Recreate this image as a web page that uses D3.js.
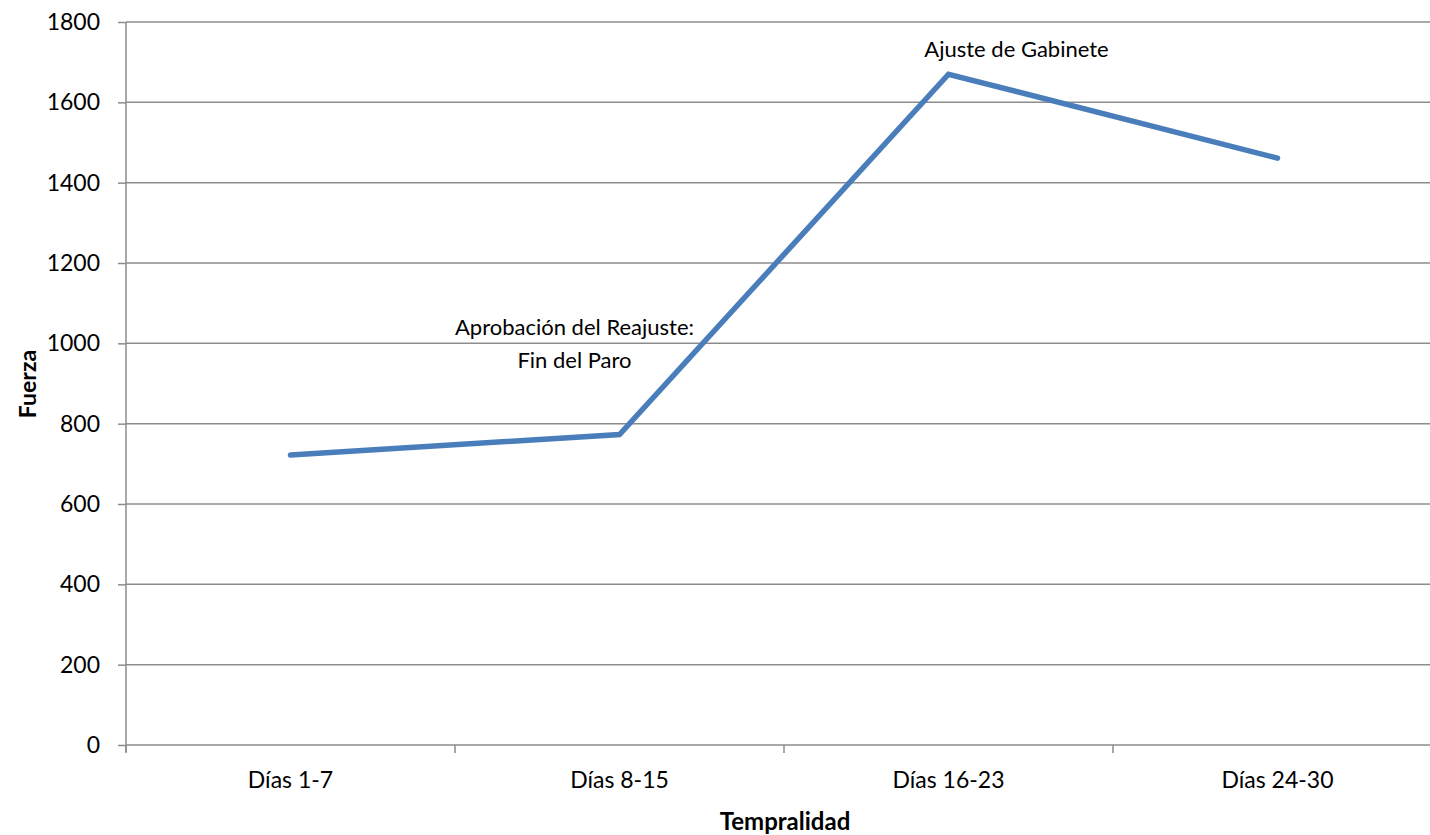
<!DOCTYPE html>
<html><head><meta charset="utf-8">
<script src="https://cdn.jsdelivr.net/npm/d3@7"></script>
<style>body{margin:0;background:#fff;} text{font-family:Lato,"Open Sans",sans-serif;fill:#000;}</style>
</head><body>
<svg id="c" width="1430" height="835"></svg>
<script>
const categories = ["Días 1-7","Días 8-15","Días 16-23","Días 24-30"];
const values = [722, 773, 1670, 1461];
const yTicks = [0,200,400,600,800,1000,1200,1400,1600,1800];
const annotations = [
  {cat:"Días 16-23", value:1800, dy:35, lines:["Ajuste de Gabinete"], dx:68},
  {cat:"Días 8-15", value:1000, dy:-8, lines:["Aprobación del Reajuste:","Fin del Paro"], dx:-45}
];
const svg = d3.select("#c");
const L=126, R=1442, T=22, B=745;
const x = d3.scaleBand().domain(categories).range([L,R]);
const y = d3.scaleLinear().domain([0,1800]).range([B,T]);
const grid="#8c8c8c";
// gridlines
svg.append("g").selectAll("line").data(yTicks.filter(d=>d>0)).join("line")
  .attr("x1",L).attr("x2",R).attr("y1",d=>y(d)).attr("y2",d=>y(d))
  .attr("stroke",grid).attr("stroke-width",1.5);
// y axis
const ya = svg.append("g").attr("transform",`translate(${L},0)`)
  .call(d3.axisLeft(y).tickValues(yTicks).tickFormat(d3.format("d")).tickSize(8).tickPadding(18));
ya.select(".domain").attr("stroke",grid).attr("stroke-width",1.5).attr("d",`M0,${T}V${B+7}`);
ya.selectAll(".tick line").attr("stroke",grid).attr("stroke-width",1.5);
ya.selectAll("text").style("font-size","23px");
// x axis
const xa = svg.append("g").attr("transform",`translate(0,${B})`)
  .call(d3.axisBottom(x).tickSize(0).tickPadding(27));
xa.select(".domain").attr("stroke",grid).attr("stroke-width",1.5).attr("d",`M${L},0H${R}`);
xa.selectAll("text").style("font-size","23px");
xa.selectAll(".tick line").remove();
const bounds = categories.map(c=>x(c)).concat([R]);
svg.append("g").selectAll("line").data(bounds).join("line")
  .attr("x1",d=>d).attr("x2",d=>d).attr("y1",B).attr("y2",B+8)
  .attr("stroke",grid).attr("stroke-width",1.5);
// line
const line = d3.line().x((d,i)=>x(categories[i])+x.bandwidth()/2).y(d=>y(d));
svg.append("path").datum(values).attr("d",line).attr("fill","none")
  .attr("stroke","#4a7ebb").attr("stroke-width",5.5).attr("stroke-linejoin","miter").attr("stroke-linecap","round");
// annotations
annotations.forEach(a=>{
  const cx = x(a.cat)+x.bandwidth()/2 + a.dx;
  const t = svg.append("text").attr("text-anchor","middle").style("font-size","22px");
  a.lines.forEach((s,i)=>t.append("tspan").attr("x",cx).attr("y",y(a.value)+a.dy+i*33).text(s));
});
// axis titles
svg.append("text").attr("x",785).attr("y",830).attr("text-anchor","middle")
  .style("font-size","24px").style("font-weight","bold").text("Tempralidad");
svg.append("text").attr("transform","translate(36,384) rotate(-90)").attr("text-anchor","middle")
  .style("font-size","23px").style("font-weight","bold").text("Fuerza");
</script>
</body></html>
